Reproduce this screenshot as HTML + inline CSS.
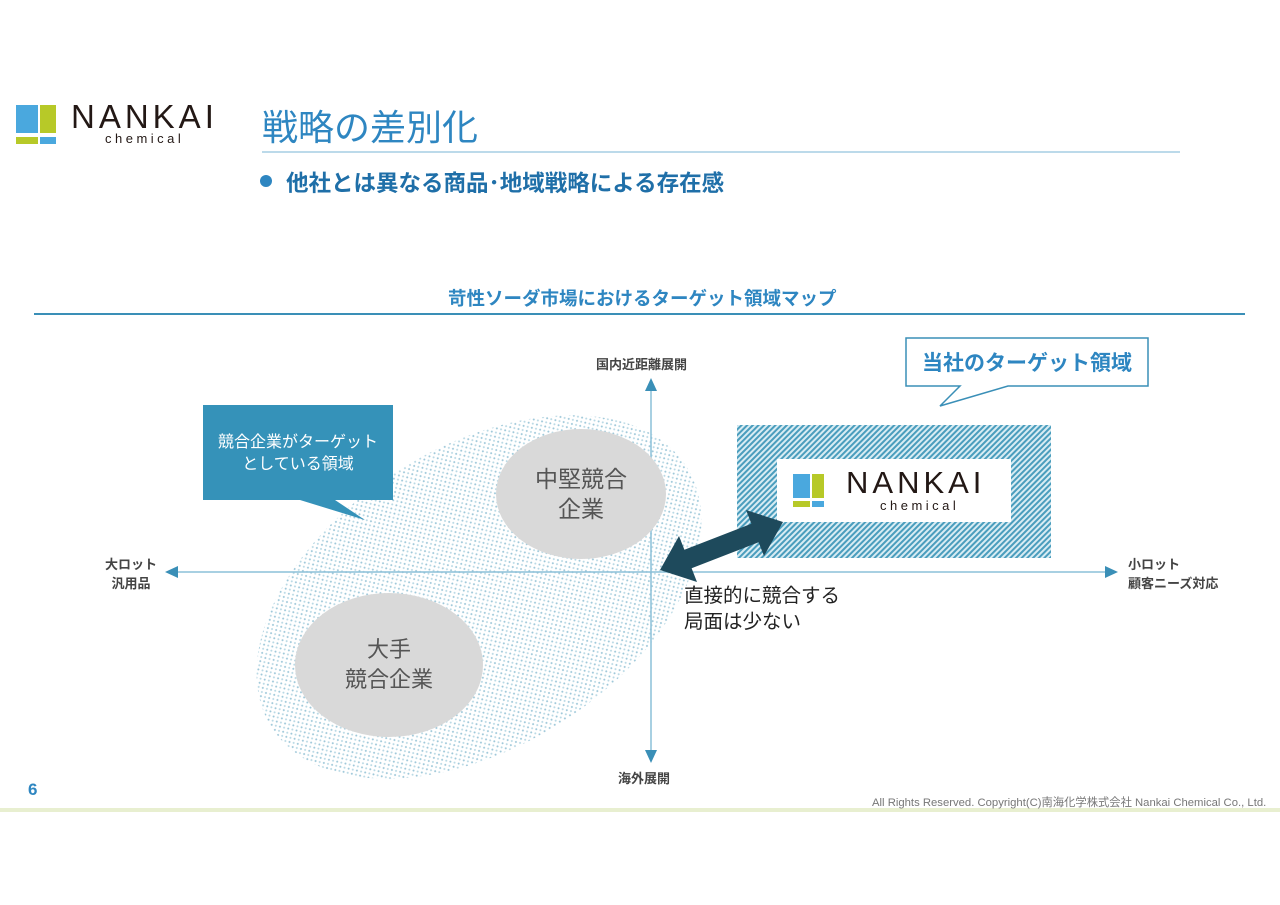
<!DOCTYPE html>
<html><head><meta charset="utf-8"><style>
body{margin:0;width:1280px;height:905px;background:#fff;overflow:hidden;position:relative;font-family:"Liberation Sans","Noto Sans CJK JP",sans-serif}
.a{position:absolute;white-space:nowrap}
</style></head><body>
<svg width="1280" height="905" style="position:absolute;left:0;top:0">
<defs>
<pattern id="dots" width="6" height="6" patternUnits="userSpaceOnUse">
<circle cx="1.5" cy="1.5" r="1" fill="#9cc6d8"/><circle cx="4.5" cy="4.5" r="1" fill="#b8d8e4"/>
</pattern>
<pattern id="hatch" width="4" height="4" patternUnits="userSpaceOnUse" patternTransform="rotate(45)">
<rect width="4" height="4" fill="#d8ecf3"/><rect width="2" height="4" fill="#4a9dbd"/>
</pattern>
</defs>
<rect x="16" y="105" width="22" height="28" fill="#4aa8de"/>
<rect x="40" y="105" width="16" height="28" fill="#b7c928"/>
<rect x="16" y="137" width="22" height="7" fill="#b7c928"/>
<rect x="40" y="137" width="16" height="7" fill="#4aa8de"/>
<line x1="262" y1="152" x2="1180" y2="152" stroke="#7ab4d4" stroke-width="1"/>
<circle cx="266" cy="181" r="6" fill="#2e86c1"/>
<line x1="34" y1="314" x2="1245" y2="314" stroke="#3a8fb7" stroke-width="2"/>
<ellipse cx="479" cy="597" rx="245" ry="150" transform="rotate(-32 479 597)" fill="url(#dots)"/>
<rect x="737" y="425" width="314" height="133" fill="url(#hatch)"/>
<rect x="777" y="459" width="234" height="63" fill="#fff"/>
<rect x="793" y="474" width="17" height="24" fill="#4aa8de"/>
<rect x="812" y="474" width="12" height="24" fill="#b7c928"/>
<rect x="793" y="501" width="17" height="6" fill="#b7c928"/>
<rect x="812" y="501" width="12" height="6" fill="#4aa8de"/>
<line x1="170" y1="572" x2="1110" y2="572" stroke="#8cc0d8" stroke-width="1.5"/>
<polygon points="165,572 178,566 178,578" fill="#3a8fb7"/>
<polygon points="1118,572 1105,566 1105,578" fill="#3a8fb7"/>
<line x1="651" y1="385" x2="651" y2="757" stroke="#8cc0d8" stroke-width="1.5"/>
<polygon points="651,378 645,391 657,391" fill="#3a8fb7"/>
<polygon points="651,763 645,750 657,750" fill="#3a8fb7"/>
<ellipse cx="581" cy="494" rx="85" ry="65" fill="#d9d9d9"/>
<ellipse cx="389" cy="665" rx="94" ry="72" fill="#d9d9d9"/>
<polygon points="203,405 393,405 393,500 335,500 365,520 300,500 203,500" fill="#3592b9"/>
<polygon points="906,338 1148,338 1148,386 1008,386 940,406 960,386 906,386" fill="#fff" stroke="#3a8fb7" stroke-width="1.5"/>
<polygon points="660,570 679,536 684.4,549.7 751.4,523.7 746,510 783,522 764,556 758.6,542.3 691.6,568.3 697,582" fill="#1e4a5c"/>
<line x1="0" y1="810" x2="1280" y2="810" stroke="#e8efd0" stroke-width="4"/>
</svg>
<div class="a" style="left:71px;top:98px;font-size:33px;letter-spacing:4px;color:#231815">NANKAI</div>
<div class="a" style="left:105px;top:131px;font-size:13px;letter-spacing:3.5px;color:#231815">chemical</div>
<div class="a" style="left:262px;top:99px;font-size:36px;color:#2e86c1">戦略の差別化</div>
<div class="a" style="left:286px;top:166px;font-size:22.5px;font-weight:bold;color:#1f6fa8">他社とは異なる商品･地域戦略による存在感</div>
<div class="a" style="left:448px;top:285px;font-size:18.5px;font-weight:bold;color:#2e86c1">苛性ソーダ市場におけるターゲット領域マップ</div>
<div class="a" style="left:596px;top:354px;font-size:13px;font-weight:bold;color:#444">国内近距離展開</div>
<div class="a" style="left:618px;top:768px;font-size:13px;font-weight:bold;color:#444">海外展開</div>
<div class="a" style="left:105px;top:555px;font-size:13px;font-weight:bold;color:#444;line-height:19px;text-align:center">大ロット<br>汎用品</div>
<div class="a" style="left:1128px;top:555px;font-size:13px;font-weight:bold;color:#444;line-height:19px">小ロット<br>顧客ニーズ対応</div>
<div class="a" style="left:203px;top:432px;width:190px;text-align:center;font-size:16px;color:#fff;line-height:22px">競合企業がターゲット<br>としている領域</div>
<div class="a" style="left:906px;top:347px;width:242px;text-align:center;font-size:21px;font-weight:bold;color:#2e86c1">当社のターゲット領域</div>
<div class="a" style="left:496px;top:464px;width:170px;text-align:center;font-size:23px;color:#555;line-height:30px">中堅競合<br>企業</div>
<div class="a" style="left:295px;top:635px;width:188px;text-align:center;font-size:22px;color:#555;line-height:30px">大手<br>競合企業</div>
<div class="a" style="left:846px;top:465px;font-size:31px;letter-spacing:4px;color:#231815">NANKAI</div>
<div class="a" style="left:880px;top:498px;font-size:13px;letter-spacing:3.5px;color:#231815">chemical</div>
<div class="a" style="left:684px;top:583px;font-size:19.5px;color:#222;line-height:26px">直接的に競合する<br>局面は少ない</div>
<div class="a" style="left:28px;top:780px;font-size:17px;font-weight:bold;color:#2e86c1">6</div>
<div class="a" style="left:872px;top:794px;font-size:11.3px;color:#777">All Rights Reserved. Copyright(C)南海化学株式会社 Nankai Chemical Co., Ltd.</div>
</body></html>
